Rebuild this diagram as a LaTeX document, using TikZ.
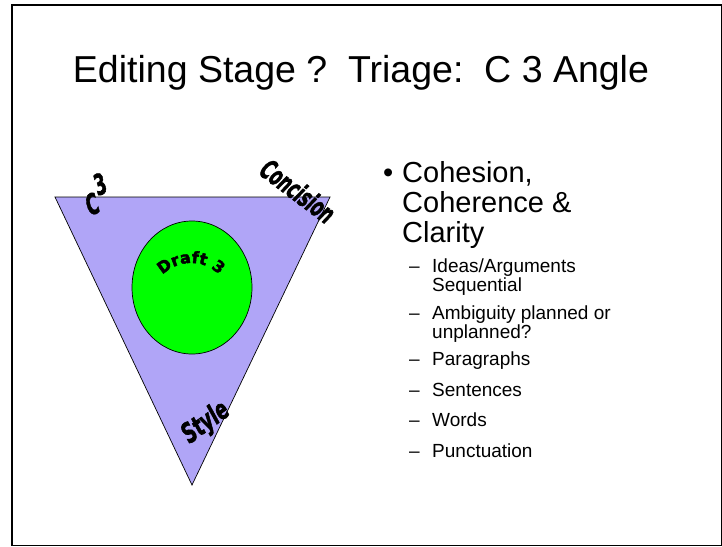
\documentclass[tikz,border=0pt]{standalone}
\usepackage{fontspec}
\setmainfont{Liberation Sans}
\newfontfamily\artfont{DejaVu Sans}[FakeBold=2.5]
\usetikzlibrary{decorations.text}

\definecolor{trifill}{RGB}{176,165,247}
\definecolor{draftgreen}{RGB}{0,255,0}

\begin{document}
\begin{tikzpicture}[
			x=1pt, y=-1pt,
			base/.style={inner sep=0pt, anchor=base west},
			slide-title/.style={inner sep=0pt, anchor=base, font=\fontsize{37.5}{40}\selectfont},
			level-one/.style={base, font=\fontsize{29}{31}\selectfont},
			level-two/.style={base, font=\fontsize{19}{21}\selectfont},
			wordart/.style={inner sep=0pt, font=\artfont\bfseries\itshape\fontsize{21}{22}\selectfont},
			]

			\newcommand{\dashx}{409}
			\newcommand{\subx}{432}

			\useasboundingbox (0,0) rectangle (722,546);
			\draw [line width=1.7pt] (11.8,5.2) rectangle (721.5,545.5);

			\node [slide-title] (title) at (361,82) {Editing Stage ?\ \ Triage:\ \ C 3 Angle};

			% triangle and draft
			\filldraw [fill=trifill, line width=0.7pt] (55,197) -- (330,197) -- (192,485) -- cycle;
			\filldraw [fill=draftgreen, line width=0.7pt] (192,287.5) ellipse [x radius=60, y radius=66.5];

			\node [wordart, rotate=22]  (cthree)    at (96,194)  {\scalebox{0.8}[1.35]{C\,\raisebox{0.55em}{3}}};
			\node [wordart, rotate=-37] (concision) at (298,191) {\scalebox{0.75}[1.3]{Concision}};
			\node [wordart, rotate=36]  (style)     at (206,423) {\scalebox{0.85}[1.3]{Style}};
			\path [decorate, decoration={text along path, text align=center,
				text={|\artfont\bfseries\fontsize{16}{16}\selectfont|Draft 3}}]
				(191,303) ++(208:40) arc [start angle=208, end angle=332, radius=40];

			% bullet list
			\node [level-one] (bullet)    at (383,182) {\textbullet};
			\node [level-one] (cohesion)  at (402,182) {Cohesion,};
			\node [level-one] (coherence) at (402,212) {Coherence \&};
			\node [level-one] (clarity)   at (402,242) {Clarity};

			\node [level-two] (dash-ideas)  at (\dashx,272) {--};
			\node [level-two] (ideas)       at (\subx,272)  {Ideas/Arguments};
			\node [level-two] (sequential)  at (\subx,291)  {Sequential};
			\node [level-two] (dash-ambig)  at (\dashx,319) {--};
			\node [level-two] (ambiguity)   at (\subx,319)  {Ambiguity planned or};
			\node [level-two] (unplanned)   at (\subx,338)  {unplanned?};
			\node [level-two] (dash-para)   at (\dashx,365) {--};
			\node [level-two] (paragraphs)  at (\subx,365)  {Paragraphs};
			\node [level-two] (dash-sent)   at (\dashx,396) {--};
			\node [level-two] (sentences)   at (\subx,396)  {Sentences};
			\node [level-two] (dash-words)  at (\dashx,426) {--};
			\node [level-two] (words)       at (\subx,426)  {Words};
			\node [level-two] (dash-punct)  at (\dashx,457) {--};
			\node [level-two] (punctuation) at (\subx,457)  {Punctuation};

		\end{tikzpicture}
\end{document}
